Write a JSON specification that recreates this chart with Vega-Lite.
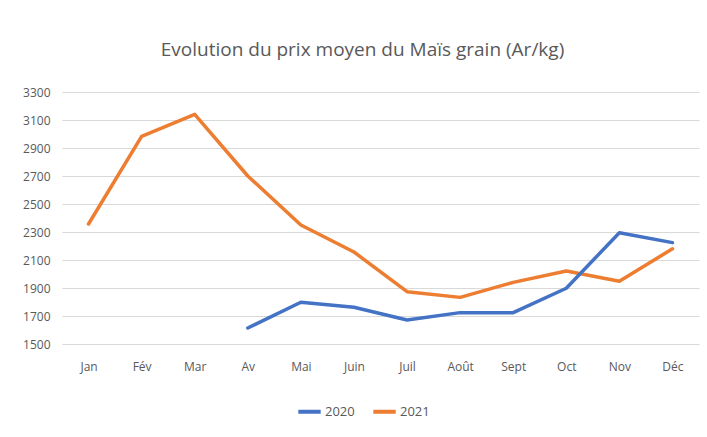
{
  "$schema": "https://vega.github.io/schema/vega-lite/v6.json",
  "width": 637,
  "height": 252,
  "autosize": {"type": "none"},
  "padding": {"left": 62, "top": 92, "right": 8, "bottom": 93},
  "background": "white",
  "title": {
    "text": "Evolution du prix moyen du Maïs grain (Ar/kg)",
    "font": "Open Sans",
    "fontSize": 19,
    "fontWeight": "normal",
    "color": "#595959",
    "anchor": "middle",
    "dx": -18,
    "offset": 26
  },
  "data": {
    "values": [
      {"mois": "Jan", "annee": "2021", "prix": 2357},
      {"mois": "Fév", "annee": "2021", "prix": 2983},
      {"mois": "Mar", "annee": "2021", "prix": 3140},
      {"mois": "Av", "annee": "2021", "prix": 2700},
      {"mois": "Mai", "annee": "2021", "prix": 2350},
      {"mois": "Juin", "annee": "2021", "prix": 2157},
      {"mois": "Juil", "annee": "2021", "prix": 1874},
      {"mois": "Août", "annee": "2021", "prix": 1833},
      {"mois": "Sept", "annee": "2021", "prix": 1940},
      {"mois": "Oct", "annee": "2021", "prix": 2022},
      {"mois": "Nov", "annee": "2021", "prix": 1948},
      {"mois": "Déc", "annee": "2021", "prix": 2180},
      {"mois": "Av", "annee": "2020", "prix": 1614},
      {"mois": "Mai", "annee": "2020", "prix": 1798},
      {"mois": "Juin", "annee": "2020", "prix": 1762},
      {"mois": "Juil", "annee": "2020", "prix": 1671},
      {"mois": "Août", "annee": "2020", "prix": 1724},
      {"mois": "Sept", "annee": "2020", "prix": 1724},
      {"mois": "Oct", "annee": "2020", "prix": 1898},
      {"mois": "Nov", "annee": "2020", "prix": 2295},
      {"mois": "Déc", "annee": "2020", "prix": 2224}
    ]
  },
  "mark": {"type": "line", "strokeWidth": 3.5, "strokeCap": "round", "strokeJoin": "round"},
  "encoding": {
    "x": {
      "field": "mois",
      "type": "ordinal",
      "sort": ["Jan", "Fév", "Mar", "Av", "Mai", "Juin", "Juil", "Août", "Sept", "Oct", "Nov", "Déc"],
      "scale": {"type": "point", "padding": 0.5},
      "axis": {
        "title": null,
        "labelAngle": 0,
        "domain": false,
        "ticks": false,
        "grid": false,
        "labelPadding": 17,
        "labelFont": "Open Sans",
        "labelFontSize": 12,
        "labelColor": "#595959"
      }
    },
    "y": {
      "field": "prix",
      "type": "quantitative",
      "scale": {"domain": [1500, 3300], "nice": false, "zero": false},
      "axis": {
        "title": null,
        "values": [1500, 1700, 1900, 2100, 2300, 2500, 2700, 2900, 3100, 3300],
        "format": "d",
        "domain": false,
        "ticks": false,
        "grid": true,
        "gridColor": "#d9d9d9",
        "gridWidth": 1.2,
        "labelPadding": 12,
        "labelFont": "Open Sans",
        "labelFontSize": 12,
        "labelColor": "#595959"
      }
    },
    "color": {
      "field": "annee",
      "type": "nominal",
      "scale": {"domain": ["2020", "2021"], "range": ["#4472C4", "#ED7D31"]},
      "legend": {
        "title": null,
        "orient": "none",
        "direction": "horizontal",
        "legendX": 234,
        "legendY": 306,
        "symbolType": "stroke",
        "symbolStrokeWidth": 4,
        "symbolSize": 500,
        "labelFont": "Open Sans",
        "labelFontSize": 13,
        "labelColor": "#595959",
        "labelOffset": 2,
        "columnPadding": 10
      }
    }
  },
  "config": {"view": {"stroke": null}}
}
